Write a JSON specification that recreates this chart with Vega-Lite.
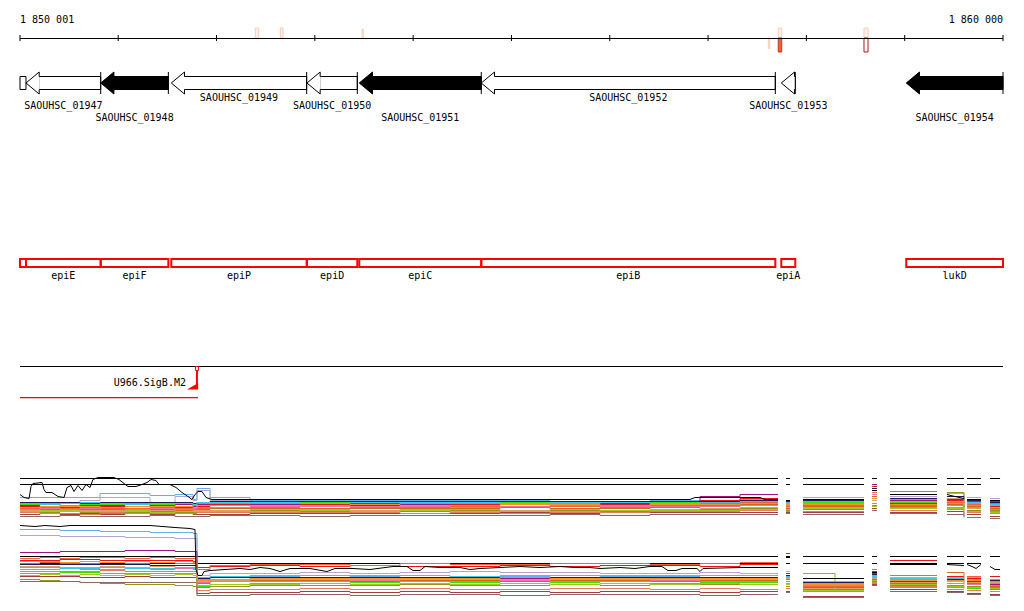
{
"$schema":"https://vega.github.io/schema/vega-lite/v6.json",
"background":"white",
"padding":{"left":18,"right":21,"top":0,"bottom":11},
"spacing":0,
"resolve":{"scale":{"fill":"independent","stroke":"independent","color":"independent"}},
"config":{"view":{"stroke":null},"text":{"font":"DejaVu Sans Mono","fontSize":10,"color":"#000"}},
"datasets":{
"span":[{"start":1850001,"end":1860000}],
"ticks":[{"pos":1850001},{"pos":1851000},{"pos":1852000},{"pos":1853000},{"pos":1854000},{"pos":1855000},{"pos":1856000},{"pos":1857000},{"pos":1858000},{"pos":1859000},{"pos":1860000}],
"coords":[{"pos":1850001,"label":"1 850 001"},{"pos":1860000,"label":"1 860 000"}],
"marks":[
{"start":1852394,"end":1852429,"score":10,"cls":"l"},
{"start":1852649,"end":1852676,"score":10,"cls":"l"},
{"start":1853480,"end":1853493,"score":9,"cls":"l"},
{"start":1857613,"end":1857627,"score":-10.5,"cls":"l"},
{"start":1857714,"end":1857749,"score":10,"cls":"l"},
{"start":1857714,"end":1857749,"score":-14,"cls":"s"},
{"start":1858586,"end":1858627,"score":10,"cls":"l"},
{"start":1858586,"end":1858627,"score":-14,"cls":"d"}],
"genes":[
{"tag":"SAOUHSC_01947","gene":"epiE","start":1850062,"end":1850822,"grp":"open","lane":"b"},
{"tag":"SAOUHSC_01948","gene":"epiF","start":1850822,"end":1851510,"grp":"filled","lane":"c"},
{"tag":"SAOUHSC_01949","gene":"epiP","start":1851540,"end":1852917,"grp":"open","lane":"a"},
{"tag":"SAOUHSC_01950","gene":"epiD","start":1852920,"end":1853432,"grp":"open","lane":"b"},
{"tag":"SAOUHSC_01951","gene":"epiC","start":1853452,"end":1854693,"grp":"filled","lane":"c"},
{"tag":"SAOUHSC_01952","gene":"epiB","start":1854693,"end":1857684,"grp":"open","lane":"a"},
{"tag":"SAOUHSC_01953","gene":"epiA","start":1857745,"end":1857887,"grp":"open","lane":"b"},
{"tag":"SAOUHSC_01954","gene":"lukD","start":1859016,"end":1860000,"grp":"filled","lane":"c"}],
"frag":[{"start":1850001,"end":1850062}],
"motif":[{"name":"U966.SigB.M2","pos":1851801,"tx":1850001}],
"segs":[
{"seg":1,"start":1850001,"end":1857711,"full":1},
{"seg":2,"start":1857793,"end":1857833,"full":1},
{"seg":3,"start":1857966,"end":1858586,"full":1},
{"seg":4,"start":1858668,"end":1858718,"full":1},
{"seg":5,"start":1858851,"end":1859329,"full":1},
{"seg":6,"start":1859430,"end":1859603,"full":1},
{"seg":7,"start":1859634,"end":1859776,"full":1},
{"seg":8,"start":1859868,"end":1859970,"full":0}],
"grid":[{"i":1,"x":1850001,"seg":1},{"i":2,"x":1850204,"seg":1},{"i":3,"x":1850408,"seg":1},{"i":4,"x":1850611,"seg":1},{"i":5,"x":1850815,"seg":1},{"i":6,"x":1851069,"seg":1},{"i":7,"x":1851323,"seg":1},{"i":8,"x":1851578,"seg":1},{"i":9,"x":1851761,"seg":1},{"i":10,"x":1851801,"seg":1},{"i":11,"x":1851934,"seg":1},{"i":12,"x":1852341,"seg":1},{"i":13,"x":1852849,"seg":1},{"i":14,"x":1853358,"seg":1},{"i":15,"x":1853866,"seg":1},{"i":16,"x":1854375,"seg":1},{"i":17,"x":1854884,"seg":1},{"i":18,"x":1855392,"seg":1},{"i":19,"x":1855901,"seg":1},{"i":20,"x":1856409,"seg":1},{"i":21,"x":1856918,"seg":1},{"i":22,"x":1857325,"seg":1},{"i":23,"x":1857711,"seg":1},{"i":24,"x":1857793,"seg":2},{"i":25,"x":1857833,"seg":2},{"i":26,"x":1857966,"seg":3},{"i":27,"x":1858291,"seg":3},{"i":28,"x":1858586,"seg":3},{"i":29,"x":1858668,"seg":4},{"i":30,"x":1858718,"seg":4},{"i":31,"x":1858851,"seg":5},{"i":32,"x":1859105,"seg":5},{"i":33,"x":1859329,"seg":5},{"i":34,"x":1859430,"seg":6},{"i":35,"x":1859603,"seg":6},{"i":36,"x":1859634,"seg":7},{"i":37,"x":1859776,"seg":7},{"i":38,"x":1859868,"seg":8},{"i":39,"x":1859970,"seg":8}],
"series":[
{"p":"U","s":"s01","v":[23,23,23,23,27,27,25,26,21,32,23,20,20,20,20,20,20,19,19,20,20,21,21,18,18,19,19,19,20,20,21,21,21,20,17,18,18,15,15]},
{"p":"L","s":"s01","v":[72,72,71,71,70,70,69,69,68,22,24,25,24,25,24,25,25,24,25,25,24,24,24,25,25,18,18,18,24,24,22,22,22,20,20,22,22,20,20]},
{"p":"U","s":"s02","v":[17,17,18,20,23,23,18,24,20,30,20,18,18,17,17,18,18,17,17,18,20,22,22,15,15,23,23,23,24,24,24,24,24,27,23,23,23,22,22]},
{"p":"L","s":"s02","v":[66,66,65,65,65,64,64,63,63,26,28,28,29,28,29,30,29,29,28,28,29,28,28,30,30,20,20,20,26,26,24,24,24,24,24,24,24,22,22]},
{"p":"U","s":"s03","v":[15,16,15,16,15,17,15,16,14,16,15,16,15,15,16,16,16,15,17,19,24,26,26,20,20,20,20,20,36,36,20,20,20,21,20,17,17,19,19]},
{"p":"L","s":"s03","v":[49,49,50,50,50,51,51,50,50,21,22,23,22,23,23,22,23,23,22,23,23,22,22,28,28,16,16,16,28,28,20,20,20,21,21,20,20,17,17]},
{"p":"U","s":"s04","v":[14,14,13,15,14,14,15,13,13,14,16,17,16,17,17,16,17,17,16,18,20,22,22,17,17,17,17,17,34,34,17,17,17,20,17,19,19,14,14]},
{"p":"L","s":"s04","v":[41,41,42,42,41,41,41,41,40,34,35,36,35,36,35,35,36,35,36,36,35,37,37,48,48,17,17,17,30,30,41,41,41,25,25,23,23,25,25]},
{"p":"U","s":"s05","v":[12,13,12,13,12,12,13,12,11,12,13,13,14,13,13,14,13,14,13,15,17,18,18,14,14,15,15,15,28,28,15,15,15,18,14,16,16,17,17]},
{"p":"L","s":"s05","v":[43,44,43,44,44,43,44,43,43,32,36,37,37,36,38,37,37,38,38,37,38,39,39,44,44,15,15,15,32,32,26,26,26,23,23,25,25,14,14]},
{"p":"U","s":"s06","v":[11,11,10,11,11,10,11,10,10,11,12,12,12,12,12,12,13,12,12,13,15,16,16,12,12,14,14,14,24,24,14,14,14,16,12,14,14,12,12]},
{"p":"L","s":"s06","v":[38,39,38,38,39,38,39,38,38,18,20,21,21,20,21,21,20,21,21,20,21,21,21,22,22,14,14,14,22,22,18,18,18,29,17,18,18,15,15]},
{"p":"U","s":"s07","v":[8,8,9,8,7,8,9,8,8,9,10,10,9,8,9,10,9,10,9,10,11,12,12,10,10,11,11,11,15,15,29,29,29,28,24,10,10,10,10]},
{"p":"L","s":"s07","v":[22,21,20,19,18,17,17,16,15,14,15,16,16,16,17,16,16,17,16,17,17,17,17,15,15,12,12,12,20,20,16,16,16,16,13,15,15,12,12]},
{"p":"U","s":"s08","v":[16,17,15,16,16,17,16,17,15,17,17,17,18,18,17,17,18,17,18,18,18,20,20,16,16,18,18,18,22,22,18,18,18,15,13,15,15,7,7]},
{"p":"L","s":"s08","v":[28,28,29,29,28,28,28,28,28,15,17,18,18,19,18,19,18,19,18,18,19,19,19,20,20,28,10,10,18,18,14,14,14,14,14,13,13,16,16]},
{"p":"U","s":"s09","v":[10,9,9,10,10,9,10,11,10,10,10,11,11,10,11,11,10,11,10,11,12,13,13,13,13,13,13,13,20,20,16,16,16,22,18,12,12,13,13]},
{"p":"L","s":"s09","v":[35,35,34,34,35,34,35,34,34,20,21,22,22,22,22,22,22,22,22,22,22,22,22,23,23,13,13,13,23,23,19,19,19,20,20,19,19,19,19]},
{"p":"U","s":"s10","v":[11,12,11,12,13,11,12,11,12,13,13,14,14,14,14,13,14,15,14,14,14,15,15,15,15,16,16,16,26,26,13,13,13,13,11,13,13,11,11]},
{"p":"L","s":"s10","v":[32,32,33,32,32,33,32,33,32,19,20,20,20,21,20,20,21,20,20,21,20,20,20,18,18,16,16,16,21,21,21,21,21,18,18,17,17,18,18]},
{"p":"U","s":"s11","v":[6,7,6,7,6,7,6,7,6,6,6,7,7,7,7,7,8,7,8,8,8,8,8,8,8,8,8,8,12,12,8,8,8,9,5,6,6,4,4]},
{"p":"L","s":"s11","v":[25,25,25,24,24,25,24,24,24,8,9,9,10,9,10,9,10,9,10,10,9,10,10,10,10,5,5,5,17,17,12,12,12,10,10,8,8,7,7]},
{"p":"U","s":"s12","v":[18,18,18,17,18,18,18,18,17,18,19,19,19,19,19,19,19,19,19,19,19,20,20,19,19,20,20,20,32,32,22,22,22,24,21,20,20,18,18]},
{"p":"L","s":"s12","v":[37,37,37,37,37,37,36,36,36,23,24,24,24,24,24,24,24,24,24,24,24,24,24,26,26,19,19,19,27,27,23,23,23,22,22,21,21,21,21]},
{"p":"U","s":"s13","v":[17,16,17,18,17,16,17,17,16,18,18,18,17,18,18,18,17,18,18,17,18,19,19,17,17,17,17,17,30,30,19,19,19,17,15,17,17,16,16]},
{"p":"L","s":"s13","v":[34,34,33,33,34,33,33,34,33,24,25,26,26,26,26,25,26,26,26,26,26,26,26,24,24,18,18,18,25,25,23,23,23,23,23,22,22,20,20]},
{"p":"U","s":"s14","v":[4,4,5,4,4,4,5,4,4,4,5,5,4,5,5,5,5,6,5,6,6,6,6,7,7,6,6,6,10,10,7,7,7,6,3,3,3,2,2]},
{"p":"L","s":"s14","v":[20,20,20,19,19,19,19,19,19,6,6,7,7,6,7,7,6,7,7,7,6,7,7,9,9,4,4,4,16,16,10,10,10,9,9,7,7,6,6]},
{"p":"U","s":"s15","v":[13,14,14,14,13,14,14,14,13,15,15,15,15,16,15,15,16,16,15,16,16,17,17,16,16,16,16,16,22,22,16,16,16,19,15,15,15,15,15]},
{"p":"L","s":"s15","v":[40,40,39,40,39,40,39,40,39,21,22,23,23,23,23,23,24,23,23,23,23,23,23,24,24,17,17,17,26,26,21,21,21,21,21,21,21,22,22]},
{"p":"U","s":"s16","v":[8,7,7,6,8,7,7,7,7,8,8,8,8,8,7,8,7,8,8,9,9,10,10,9,9,9,9,9,17,17,10,10,10,11,8,8,8,9,9]},
{"p":"L","s":"s16","v":[30,30,30,30,31,30,30,30,30,11,12,12,13,12,13,12,12,13,13,12,13,12,12,13,13,10,10,10,19,19,15,15,15,12,12,11,11,10,10]},
{"p":"U","s":"s17","v":[9,10,10,9,9,10,8,9,9,9,9,9,10,9,10,9,9,9,10,10,10,11,11,11,11,12,12,12,14,14,12,12,12,12,10,9,9,8,8]},
{"p":"L","s":"s17","v":[26,27,26,27,26,27,26,27,26,16,17,17,18,17,18,17,18,17,18,17,18,17,17,17,17,11,11,11,21,21,17,17,17,15,15,14,14,13,13]}
],
"blk":[
{"p":"U","seg":1,"x":[1850001,1850042,1850093,1850113,1850133,1850225,1850245,1850265,1850326,1850388,1850449,1850479,1850520,1850550,1850591,1850632,1850672,1850713,1850743,1850794,1850957,1851008,1851059,1851100,1851181,1851242,1851293,1851334,1851384,1851415,1851527,1851588,1851649,1851710,1851751,1851781,1851812,1851852,1851893,1851954,1856816,1856867,1857528,1857579,1857711],"v":[26,23,22,34,37,38,31,28,28,24,23,33,35,29,35,30,36,33,41,43,43,41,37,34,34,36,38,41,40,36,36,33,28,24,21,26,29,29,23,21,21,23,23,21,21]},
{"p":"U","seg":2,"x":[1857793,1857833],"v":[20,20]},
{"p":"U","seg":3,"x":[1857966,1858586],"v":[21,21]},
{"p":"U","seg":4,"x":[1858668,1858718],"v":[30,30]},
{"p":"U","seg":5,"x":[1858851,1859329],"v":[26,26]},
{"p":"U","seg":6,"x":[1859430,1859512,1859603],"v":[26,24,22]},
{"p":"U","seg":7,"x":[1859634,1859776],"v":[21,21]},
{"p":"U","seg":8,"x":[1859868,1859970],"v":[20,20]},
{"p":"L","seg":1,"x":[1850001,1850154,1850255,1850408,1850510,1851323,1851578,1851730,1851781,1851791,1851812,1851852,1851873,1851934,1852086,1852239,1852341,1852442,1852544,1852646,1852747,1852950,1853124,1853205,1853388,1853561,1853795,1853937,1853998,1854070,1854121,1854273,1854477,1854578,1854680,1854884,1855087,1855290,1855494,1855646,1855799,1855901,1856104,1856257,1856409,1856531,1856592,1856673,1856734,1856887,1856918,1856948,1857325,1857528,1857711],"v":[76,75,76,75,76,76,74,73,72,32,26,26,30,31,32,33,32,34,33,30,33,33,30,33,33,32,35,35,31,31,35,34,34,32,33,34,35,34,35,34,34,33,34,33,35,35,31,31,33,33,30,33,34,34,34]},
{"p":"L","seg":2,"x":[1857793,1857833],"v":[44,44]},
{"p":"L","seg":3,"x":[1857966,1858586],"v":[23,23]},
{"p":"L","seg":4,"x":[1858668,1858718],"v":[29,29]},
{"p":"L","seg":5,"x":[1858851,1859329],"v":[37,37]},
{"p":"L","seg":6,"x":[1859430,1859603],"v":[37,36]},
{"p":"L","seg":7,"x":[1859634,1859685,1859726,1859776],"v":[37,35,33,37]},
{"p":"L","seg":8,"x":[1859868,1859919,1859970],"v":[35,32,32]}
]
},
"vconcat":[
{"width":983,"height":60,
 "layer":[
  {"data":{"name":"marks"},"mark":{"type":"rect","strokeWidth":1},
   "encoding":{"x":{"field":"start","type":"quantitative","scale":{"domain":[1850001,1860000],"zero":false,"nice":false},"axis":null},"x2":{"field":"end"},
    "y":{"field":"score","type":"quantitative","scale":{"domain":[-22,38],"zero":false,"nice":false},"axis":null},"y2":{"datum":0},
    "fill":{"field":"cls","type":"nominal","scale":{"domain":["l","s","d"],"range":["#fdf0ea","#f0623a","#ffffff"]},"legend":null},
    "stroke":{"field":"cls","type":"nominal","scale":{"domain":["l","s","d"],"range":["#f7cdb9","#c8321e","#b01818"]},"legend":null}}},
  {"data":{"name":"span"},"mark":{"type":"rule","color":"#000","strokeWidth":1},
   "encoding":{"x":{"field":"start","type":"quantitative","scale":{"domain":[1850001,1860000],"zero":false,"nice":false},"axis":null},"x2":{"field":"end"},"y":{"datum":-0.5,"type":"quantitative"}}},
  {"data":{"name":"ticks"},"mark":{"type":"rule","color":"#000","strokeWidth":1},
   "encoding":{"x":{"field":"pos","type":"quantitative","scale":{"domain":[1850001,1860000],"zero":false,"nice":false},"axis":null},"y":{"datum":3,"type":"quantitative"},"y2":{"datum":-3}}},
  {"data":{"name":"coords"},"transform":[{"filter":"datum.pos < 1855000"}],"mark":{"type":"text","align":"left"},
   "encoding":{"x":{"field":"pos","type":"quantitative","scale":{"domain":[1850001,1860000],"zero":false,"nice":false},"axis":null},"y":{"datum":18.5,"type":"quantitative"},"text":{"field":"label"}}},
  {"data":{"name":"coords"},"transform":[{"filter":"datum.pos >= 1855000"}],"mark":{"type":"text","align":"right"},
   "encoding":{"x":{"field":"pos","type":"quantitative","scale":{"domain":[1850001,1860000],"zero":false,"nice":false},"axis":null},"y":{"datum":18.5,"type":"quantitative"},"text":{"field":"label"}}}
 ]},
{"width":983,"height":70,
 "layer":[
  {"data":{"name":"frag"},"mark":{"type":"rect","fill":"#fff","stroke":"#000","strokeWidth":1},
   "encoding":{"x":{"field":"start","type":"quantitative","scale":{"domain":[1850001,1860000],"zero":false,"nice":false},"axis":null},"x2":{"field":"end"},
    "y":{"datum":16.5,"type":"quantitative","scale":{"domain":[0,70],"reverse":true,"zero":false,"nice":false},"axis":null},"y2":{"datum":29.5}}},
  {"data":{"name":"genes"},"mark":{"type":"rect","stroke":"#000","strokeWidth":1,"xOffset":13.2},
   "encoding":{"x":{"field":"start","type":"quantitative","scale":{"domain":[1850001,1860000],"zero":false,"nice":false},"axis":null},"x2":{"field":"end"},
    "y":{"datum":16.5,"type":"quantitative"},"y2":{"datum":29.5},
    "fill":{"field":"grp","type":"nominal","scale":{"domain":["open","filled"],"range":["#ffffff","#000000"]},"legend":null}}},
  {"data":{"name":"genes"},"mark":{"type":"point","filled":true,"opacity":1,"stroke":"#000","strokeWidth":1,"size":484,"shape":"M 1.25 -0.59 L 1.2 -0.59 L 1.2 -1 L 0 0 L 1.2 1 L 1.2 0.59 L 1.25 0.59"},
   "encoding":{"x":{"field":"start","type":"quantitative","scale":{"domain":[1850001,1860000],"zero":false,"nice":false},"axis":null},
    "y":{"datum":23,"type":"quantitative"},
    "fill":{"field":"grp","type":"nominal","scale":{"domain":["open","filled"],"range":["#ffffff","#000000"]},"legend":null}}},
  {"data":{"name":"genes"},"mark":{"type":"rule","color":"#000","strokeWidth":1},
   "encoding":{"x":{"field":"end","type":"quantitative","scale":{"domain":[1850001,1860000],"zero":false,"nice":false},"axis":null},"y":{"datum":12,"type":"quantitative"},"y2":{"datum":34}}},
  {"data":{"name":"genes"},"transform":[{"filter":"datum.lane == 'a'"},{"calculate":"(datum.start + datum.end) / 2","as":"mid"}],"mark":{"type":"text"},
   "encoding":{"x":{"field":"mid","type":"quantitative","scale":{"domain":[1850001,1860000],"zero":false,"nice":false},"axis":null},"y":{"datum":37.5,"type":"quantitative"},"text":{"field":"tag"}}},
  {"data":{"name":"genes"},"transform":[{"filter":"datum.lane == 'b'"},{"calculate":"(datum.start + datum.end) / 2","as":"mid"}],"mark":{"type":"text"},
   "encoding":{"x":{"field":"mid","type":"quantitative","scale":{"domain":[1850001,1860000],"zero":false,"nice":false},"axis":null},"y":{"datum":46,"type":"quantitative"},"text":{"field":"tag"}}},
  {"data":{"name":"genes"},"transform":[{"filter":"datum.lane == 'c'"},{"calculate":"(datum.start + datum.end) / 2","as":"mid"}],"mark":{"type":"text"},
   "encoding":{"x":{"field":"mid","type":"quantitative","scale":{"domain":[1850001,1860000],"zero":false,"nice":false},"axis":null},"y":{"datum":57.5,"type":"quantitative"},"text":{"field":"tag"}}}
 ]},
{"width":983,"height":170,
 "layer":[
  {"data":{"name":"genes"},"mark":{"type":"rect","fill":null,"fillOpacity":0,"stroke":"#ff0000","strokeWidth":2},
   "encoding":{"x":{"field":"start","type":"quantitative","scale":{"domain":[1850001,1860000],"zero":false,"nice":false},"axis":null},"x2":{"field":"end"},
    "y":{"datum":129,"type":"quantitative","scale":{"domain":[0,170],"reverse":true,"zero":false,"nice":false},"axis":null},"y2":{"datum":137}}},
  {"data":{"name":"frag"},"mark":{"type":"rect","fill":null,"fillOpacity":0,"stroke":"#ff0000","strokeWidth":2},
   "encoding":{"x":{"field":"start","type":"quantitative","scale":{"domain":[1850001,1860000],"zero":false,"nice":false},"axis":null},"x2":{"field":"end"},
    "y":{"datum":129,"type":"quantitative"},"y2":{"datum":137}}},
  {"data":{"name":"genes"},"transform":[{"calculate":"(datum.start + datum.end) / 2","as":"mid"}],"mark":{"type":"text"},
   "encoding":{"x":{"field":"mid","type":"quantitative","scale":{"domain":[1850001,1860000],"zero":false,"nice":false},"axis":null},"y":{"datum":146,"type":"quantitative"},"text":{"field":"gene"}}}
 ]},
{"width":983,"height":120,
 "layer":[
  {"data":{"name":"span"},"mark":{"type":"rule","color":"#000","strokeWidth":1},
   "encoding":{"x":{"field":"start","type":"quantitative","scale":{"domain":[1850001,1860000],"zero":false,"nice":false},"axis":null},"x2":{"field":"end"},
    "y":{"datum":66.5,"type":"quantitative","scale":{"domain":[0,120],"reverse":true,"zero":false,"nice":false},"axis":null}}},
  {"data":{"name":"motif"},"mark":{"type":"rect","fill":"#ff0000","strokeWidth":0,"x2Offset":1},
   "encoding":{"x":{"field":"tx","type":"quantitative","scale":{"domain":[1850001,1860000],"zero":false,"nice":false},"axis":null},"x2":{"field":"pos"},"y":{"datum":97,"type":"quantitative"},"y2":{"datum":98.2}}},
  {"data":{"name":"motif"},"mark":{"type":"rule","color":"#ff0000","stroke":"#ff0000","strokeWidth":2},
   "encoding":{"x":{"field":"pos","type":"quantitative","scale":{"domain":[1850001,1860000],"zero":false,"nice":false},"axis":null},"y":{"datum":70,"type":"quantitative"},"y2":{"datum":89}}},
  {"data":{"name":"motif"},"mark":{"type":"rect","fill":"#ffffff","stroke":"#ff0000","strokeWidth":1,"xOffset":-1.5,"x2Offset":1.5},
   "encoding":{"x":{"field":"pos","type":"quantitative","scale":{"domain":[1850001,1860000],"zero":false,"nice":false},"axis":null},"x2":{"field":"pos"},"y":{"datum":66.5,"type":"quantitative"},"y2":{"datum":70.5}}},
  {"data":{"name":"motif"},"mark":{"type":"point","filled":true,"opacity":1,"fill":"#ff0000","strokeWidth":0,"size":100,"shape":"M 0.25 0 L -2 0 L 0.25 -1.3 Z"},
   "encoding":{"x":{"field":"pos","type":"quantitative","scale":{"domain":[1850001,1860000],"zero":false,"nice":false},"axis":null},"y":{"datum":89.5,"type":"quantitative"}}},
  {"data":{"name":"motif"},"mark":{"type":"text","align":"right","dx":-11},
   "encoding":{"x":{"field":"pos","type":"quantitative","scale":{"domain":[1850001,1860000],"zero":false,"nice":false},"axis":null},"y":{"datum":82.5,"type":"quantitative"},"text":{"field":"name"}}}
 ]},
{"width":983,"height":100,
 "layer":[
  {"data":{"name":"segs"},"mark":{"type":"rule","color":"#000","strokeWidth":1},
   "encoding":{"x":{"field":"start","type":"quantitative","scale":{"domain":[1850001,1860000],"zero":false,"nice":false},"axis":null},"x2":{"field":"end"},
    "y":{"datum":42,"type":"quantitative","scale":{"domain":[0.5,100.5],"zero":false,"nice":false},"axis":null}}},
  {"data":{"name":"segs"},"transform":[{"filter":"datum.full == 1"}],"mark":{"type":"rule","color":"#000","strokeWidth":1},
   "encoding":{"x":{"field":"start","type":"quantitative","scale":{"domain":[1850001,1860000],"zero":false,"nice":false},"axis":null},"x2":{"field":"end"},"y":{"datum":36,"type":"quantitative"}}},
  {"data":{"name":"series"},"transform":[{"filter":"datum.p == 'U'"},{"flatten":["v"]},{"window":[{"op":"row_number","as":"i"}],"groupby":["s"]},{"lookup":"i","from":{"data":{"name":"grid"},"key":"i","fields":["x","seg"]}}],
   "mark":{"type":"line","interpolate":"step-after","strokeWidth":1},
   "encoding":{"x":{"field":"x","type":"quantitative","scale":{"domain":[1850001,1860000],"zero":false,"nice":false},"axis":null},
    "y":{"field":"v","type":"quantitative"},
    "color":{"field":"s","type":"nominal","scale":{"domain":["s01","s02","s03","s04","s05","s06","s07","s08","s09","s10","s11","s12","s13","s14","s15","s16","s17"],"range":["#5fb0f0","#b7a3d3","#a0147c","#e8141c","#f2603c","#cc6a22","#959519","#3fe000","#d9a066","#ef6fa8","#a3403c","#1c1c5c","#3cc6e6","#8e6666","#ff8f1f","#e57a5c","#9fc71d"]},"legend":null},
    "detail":{"field":"seg","type":"nominal"},"order":{"field":"i","type":"quantitative"}}},
  {"data":{"name":"blk"},"transform":[{"filter":"datum.p == 'U'"},{"flatten":["x","v"]}],
   "mark":{"type":"line","color":"#000","strokeWidth":1},
   "encoding":{"x":{"field":"x","type":"quantitative","scale":{"domain":[1850001,1860000],"zero":false,"nice":false},"axis":null},"y":{"field":"v","type":"quantitative"},"detail":{"field":"seg","type":"nominal"}}}
 ]},
{"width":983,"height":80,
 "layer":[
  {"data":{"name":"segs"},"mark":{"type":"rule","color":"#000","strokeWidth":1},
   "encoding":{"x":{"field":"start","type":"quantitative","scale":{"domain":[1850001,1860000],"zero":false,"nice":false},"axis":null},"x2":{"field":"end"},
    "y":{"datum":45,"type":"quantitative","scale":{"domain":[0.5,80.5],"zero":false,"nice":false},"axis":null}}},
  {"data":{"name":"segs"},"transform":[{"filter":"datum.full == 1"}],"mark":{"type":"rule","color":"#000","strokeWidth":1},
   "encoding":{"x":{"field":"start","type":"quantitative","scale":{"domain":[1850001,1860000],"zero":false,"nice":false},"axis":null},"x2":{"field":"end"},"y":{"datum":38,"type":"quantitative"}}},
  {"data":{"name":"series"},"transform":[{"filter":"datum.p == 'L'"},{"flatten":["v"]},{"window":[{"op":"row_number","as":"i"}],"groupby":["s"]},{"lookup":"i","from":{"data":{"name":"grid"},"key":"i","fields":["x","seg"]}}],
   "mark":{"type":"line","interpolate":"step-after","strokeWidth":1},
   "encoding":{"x":{"field":"x","type":"quantitative","scale":{"domain":[1850001,1860000],"zero":false,"nice":false},"axis":null},
    "y":{"field":"v","type":"quantitative"},
    "color":{"field":"s","type":"nominal","scale":{"domain":["s01","s02","s03","s04","s05","s06","s07","s08","s09","s10","s11","s12","s13","s14","s15","s16","s17"],"range":["#5fb0f0","#b7a3d3","#a0147c","#e8141c","#f2603c","#cc6a22","#959519","#3fe000","#d9a066","#ef6fa8","#a3403c","#1c1c5c","#3cc6e6","#8e6666","#ff8f1f","#e57a5c","#9fc71d"]},"legend":null},
    "detail":{"field":"seg","type":"nominal"},"order":{"field":"i","type":"quantitative"}}},
  {"data":{"name":"blk"},"transform":[{"filter":"datum.p == 'L'"},{"flatten":["x","v"]}],
   "mark":{"type":"line","color":"#000","strokeWidth":1},
   "encoding":{"x":{"field":"x","type":"quantitative","scale":{"domain":[1850001,1860000],"zero":false,"nice":false},"axis":null},"y":{"field":"v","type":"quantitative"},"detail":{"field":"seg","type":"nominal"}}}
 ]}
]
}
